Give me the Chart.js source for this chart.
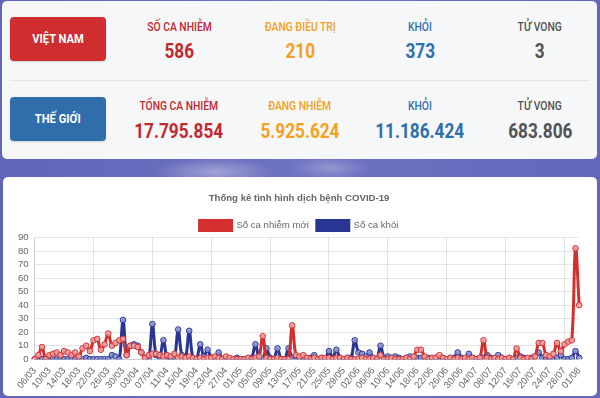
<!DOCTYPE html>
<html lang="vi">
<head>
<meta charset="utf-8">
<title>Thống kê COVID-19</title>
<script src="https://cdn.jsdelivr.net/npm/chart.js@4.4.1/dist/chart.umd.min.js"></script>
<style>
  html, body { margin: 0; padding: 0; }
  body {
    width: 600px; height: 398px; overflow: hidden; position: relative;
    font-family: Roboto, "Noto Sans", sans-serif;
    background:
      radial-gradient(ellipse 60px 14px at 215px 172px, rgba(205,205,228,0.55), rgba(205,205,228,0) 100%),
      radial-gradient(ellipse 40px 12px at 330px 168px, rgba(195,195,225,0.45), rgba(195,195,225,0) 100%),
      linear-gradient(90deg, #6165b8 0%, #6e72c2 50%, #6367ba 100%);
  }
  .stats {
    position: absolute; left: 2px; top: 1px; width: 595px; height: 158px;
    background: #f6f7f9; border-radius: 5px;
  }
  .divider { position: absolute; left: 8px; right: 8px; top: 79px; height: 1px; background: #e4e6eb; }
  .badge {
    position: absolute; left: 8px; width: 96px; height: 44px; border-radius: 4px;
    color: #fff; font-weight: 700; font-size: 13px; line-height: 44px; text-align: center;
    box-shadow: 0 1px 2px rgba(0,0,0,0.15);
  }
  .badge span, .cell span { display: inline-block; transform: scaleX(0.86); }
  .vn { top: 16px; background: #cf2d2f; }
  .tg { top: 96px; background: #2f6eab; }
  .cell { position: absolute; width: 140px; margin-left: -70px; text-align: center; white-space: nowrap; }
  .lbl { font-size: 12px; font-weight: 500; line-height: 14px; }
  .val { font-size: 20px; font-weight: 700; line-height: 22px; }
  .red { color: #c3282e; }
  .orange { color: #f4a020; }
  .blue { color: #2e70ae; }
  .gray { color: #505357; }
  .chart-card {
    position: absolute; left: 3px; top: 177px; width: 594px; height: 219px;
    background: #fff; border-radius: 5px;
  }
  .chart-box { position: absolute; left: 3px; top: 5px; width: 588px; height: 215px; }
</style>
</head>
<body>
<div class="stats">
  <div class="badge vn"><span>VIỆT NAM</span></div>
  <div class="cell lbl red" style="left:177px;top:19px"><span>SỐ CA NHIỄM</span></div>
  <div class="cell val red" style="left:177px;top:39px"><span>586</span></div>
  <div class="cell lbl orange" style="left:298px;top:19px"><span>ĐANG ĐIỀU TRỊ</span></div>
  <div class="cell val orange" style="left:298px;top:39px"><span>210</span></div>
  <div class="cell lbl blue" style="left:418px;top:19px"><span>KHỎI</span></div>
  <div class="cell val blue" style="left:418px;top:39px"><span>373</span></div>
  <div class="cell lbl gray" style="left:538px;top:19px"><span>TỬ VONG</span></div>
  <div class="cell val gray" style="left:538px;top:39px"><span>3</span></div>

  <div class="divider"></div>

  <div class="badge tg"><span>THẾ GIỚI</span></div>
  <div class="cell lbl red" style="left:177px;top:98px"><span>TỔNG CA NHIỄM</span></div>
  <div class="cell val red" style="left:177px;top:119px"><span>17.795.854</span></div>
  <div class="cell lbl orange" style="left:298px;top:98px"><span>ĐANG NHIỄM</span></div>
  <div class="cell val orange" style="left:298px;top:119px"><span>5.925.624</span></div>
  <div class="cell lbl blue" style="left:418px;top:98px"><span>KHỎI</span></div>
  <div class="cell val blue" style="left:418px;top:119px"><span>11.186.424</span></div>
  <div class="cell lbl gray" style="left:538px;top:98px"><span>TỬ VONG</span></div>
  <div class="cell val gray" style="left:538px;top:119px"><span>683.806</span></div>
</div>

<div class="chart-card">
  <div class="chart-box"><canvas id="covidChart"></canvas></div>
</div>

<script>
// === Data (06/03 - 01/08) ===
const days = [
  "06/03","07/03","08/03","09/03","10/03","11/03","12/03","13/03","14/03","15/03","16/03","17/03","18/03",
  "19/03","20/03","21/03","22/03","23/03","24/03","25/03","26/03","27/03","28/03","29/03","30/03","31/03",
  "01/04","02/04","03/04","04/04","05/04","06/04","07/04","08/04","09/04","10/04","11/04","12/04","13/04","14/04","15/04",
  "16/04","17/04","18/04","19/04","20/04","21/04","22/04","23/04","24/04","25/04","26/04","27/04","28/04","29/04","30/04",
  "01/05","02/05","03/05","04/05","05/05","06/05","07/05","08/05","09/05","10/05","11/05","12/05","13/05","14/05","15/05","16/05",
  "17/05","18/05","19/05","20/05","21/05","22/05","23/05","24/05","25/05","26/05","27/05","28/05","29/05","30/05","31/05",
  "01/06","02/06","03/06","04/06","05/06","06/06","07/06","08/06","09/06","10/06","11/06","12/06","13/06","14/06","15/06",
  "16/06","17/06","18/06","19/06","20/06","21/06","22/06","23/06","24/06","25/06","26/06","27/06","28/06","29/06","30/06",
  "01/07","02/07","03/07","04/07","05/07","06/07","07/07","08/07","09/07","10/07","11/07","12/07","13/07","14/07","15/07","16/07",
  "17/07","18/07","19/07","20/07","21/07","22/07","23/07","24/07","25/07","26/07","27/07","28/07","29/07","30/07","31/07",
  "01/08"
];

const newCases = [
  // 03
  0, 3, 9, 0, 3, 4, 5, 3, 6, 5, 3, 5, 2, 8, 10, 6, 14, 15, 7, 11, 19, 10, 12, 14, 15, 3,
  // 04
  10, 10, 9, 5, 1, 3, 4, 4, 3, 2, 3, 2, 4, 1, 2, 1, 2, 1, 0, 1, 0, 1, 1, 2, 1, 0, 2, 1, 0, 0,
  // 05
  0, 0, 1, 0, 1, 2, 17, 1, 0, 0, 1, 0, 0, 0, 25, 3, 2, 3, 1, 0, 1, 0, 1, 1, 1, 0, 1, 1, 0, 1, 0,
  // 06
  0, 0, 1, 0, 0, 1, 0, 3, 0, 0, 1, 0, 0, 0, 1, 0, 2, 7, 7, 2, 0, 1, 1, 3, 1, 0, 1, 0, 1, 0,
  // 07
  1, 0, 1, 0, 1, 14, 1, 0, 1, 0, 1, 0, 1, 0, 8, 1, 0, 1, 0, 2, 12, 12, 3, 2, 4, 12, 6, 11, 13, 14, 82,
  // 08
  40
];

const recovered = [
  // 03
  0, 0, 0, 0, 0, 0, 0, 0, 0, 0, 0, 0, 0, 0, 1, 0, 0, 0, 0, 0, 0, 3, 2, 0, 29, 3,
  // 04
  10, 11, 10, 5, 1, 0, 26, 3, 2, 14, 1, 0, 1, 22, 3, 1, 21, 1, 0, 11, 2, 7, 1, 0, 5, 0, 0, 0, 0, 1,
  // 05
  0, 0, 0, 1, 11, 1, 0, 8, 1, 0, 8, 0, 0, 8, 1, 2, 1, 0, 0, 1, 3, 0, 1, 0, 6, 1, 7, 1, 0, 1, 1,
  // 06
  14, 5, 4, 2, 5, 1, 0, 10, 1, 2, 1, 2, 1, 0, 1, 2, 0, 1, 1, 0, 1, 0, 1, 0, 1, 0, 1, 1, 5, 1,
  // 07
  0, 4, 1, 0, 1, 1, 3, 1, 0, 3, 1, 0, 1, 0, 1, 2, 1, 0, 1, 2, 5, 1, 0, 1, 0, 1, 3, 0, 0, 1, 6,
  // 08
  1
];

const yTicks = [0, 10, 20, 30, 40, 50, 60, 70, 80, 90];
const labelEvery = 4;

// === Chart ===
const textColor = "#666";
const gridColor = "rgba(0, 0, 0, 0.1)";
const fontSize = 9.6;

Chart.defaults.font.family = "'Liberation Sans', Arial, Helvetica, sans-serif";
Chart.defaults.font.size = fontSize;
Chart.defaults.color = textColor;

// the v4 legend keeps a fixed 10px gap under the items, the old layout was tighter
const legendTrim = {
  id: "legendTrim",
  afterInit(chart) {
    const legend = chart.legend;
    if (!legend) return;
    const fit = legend.fit;
    legend.fit = function () {
      fit.call(this);
      this.height -= 3;
    };
  },
};

new Chart(document.getElementById("covidChart"), {
  type: "line",
  data: {
    labels: days,
    datasets: [
      {
        label: "Số ca nhiễm mới",
        data: newCases,
        borderColor: "#d32f2f",
        backgroundColor: "#d32f2f",
        pointBackgroundColor: "rgba(240, 170, 170, 0.85)",
        pointBorderColor: "#d32f2f",
        borderWidth: 3,
        pointRadius: 2.8,
        pointBorderWidth: 1,
        tension: 0.4,
        fill: false,
      },
      {
        label: "Số ca khỏi",
        data: recovered,
        borderColor: "#283593",
        backgroundColor: "#283593",
        pointBackgroundColor: "rgba(150, 160, 215, 0.85)",
        pointBorderColor: "#283593",
        borderWidth: 3,
        pointRadius: 2.8,
        pointBorderWidth: 1,
        tension: 0.4,
        fill: false,
      },
    ],
  },
  options: {
    responsive: true,
    maintainAspectRatio: false,
    animation: false,
    layout: { padding: { left: 6, right: 8, top: 0, bottom: 0 } },
    plugins: {
      title: {
        display: true,
        text: "Thống kê tình hình dịch bệnh COVID-19",
        color: textColor,
        font: { size: fontSize, weight: "bold" },
        padding: { top: 11, bottom: 8 },
      },
      legend: {
        labels: {
          boxWidth: 32,
          boxHeight: 10,
          padding: 8,
          color: textColor,
          font: { size: fontSize },
        },
      },
      tooltip: { enabled: false },
    },
    scales: {
      x: {
        grid: {
          drawTicks: false,
          color: (ctx) => (ctx.index % labelEvery === 0 ? gridColor : "transparent"),
        },
        border: { color: gridColor },
        ticks: {
          autoSkip: false,
          minRotation: 50,
          maxRotation: 50,
          padding: 6,
          color: textColor,
          callback: function (value, index) {
            return index % labelEvery === 0 ? this.getLabelForValue(value) : null;
          },
        },
      },
      y: {
        min: yTicks[0],
        max: yTicks[yTicks.length - 1],
        afterBuildTicks: (axis) => {
          axis.ticks = yTicks.map((v) => ({ value: v }));
        },
        grid: { drawTicks: false, color: gridColor },
        border: { color: gridColor },
        ticks: { autoSkip: false, padding: 6, color: textColor },
      },
    },
  },
  plugins: [legendTrim],
});
</script>
</body>
</html>
